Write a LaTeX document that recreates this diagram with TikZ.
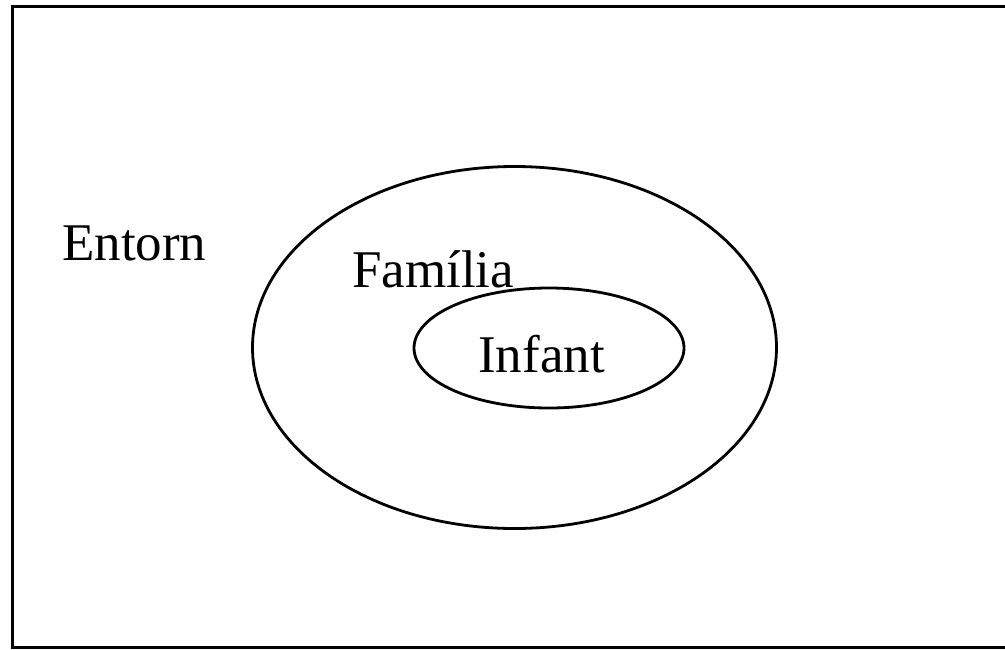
\documentclass[tikz,border=0pt]{standalone}
\usepackage{fontspec}
\setmainfont{Liberation Serif}
\usetikzlibrary{shapes.geometric}
\begin{document}
\begin{tikzpicture}[x=1pt,y=-1pt,
  outline/.style={draw=black,line width=2.8pt},
  ring/.style={outline,ellipse,inner sep=0pt},
  lbl/.style={inner sep=0pt,anchor=base west,font=\fontsize{53}{62}\selectfont}]
\useasboundingbox (0,0) rectangle (1005,649);
\draw[outline] (1020,6.5) -- (12.5,6.5) -- (12.5,647.5) -- (1020,647.5);
\node[ring,minimum width=524pt,minimum height=362pt] (outer) at (514.5,347.5) {};
\node[ring,minimum width=270pt,minimum height=120pt] (inner) at (549,348) {};
\node[lbl] (entorn) at (62,260) {Entorn};
\node[lbl] (familia) at (352,287) {Família};
\node[lbl] (infant) at (478,372) {Infant};
\end{tikzpicture}
\end{document}
